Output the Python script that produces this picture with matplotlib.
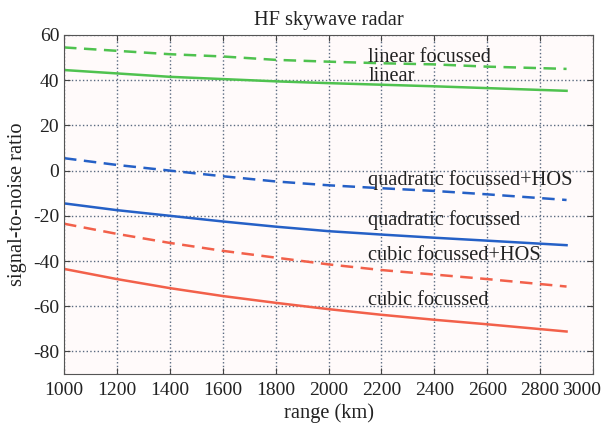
import numpy as np
import matplotlib.pyplot as plt
from matplotlib.transforms import ScaledTranslation

plt.rcParams['font.family'] = ['Liberation Serif', 'DejaVu Serif']
plt.rcParams['axes.unicode_minus'] = False

# range (km) and signal-to-noise ratio
rng = [1000, 1200, 1400, 1600, 1800, 2000, 2200, 2400, 2600, 2900]

linear_foc = [54.5, 53.0, 51.5, 50.5, 49.0, 48.2, 47.5, 47.0, 46.0, 45.0]
linear = [44.5, 43.0, 41.5, 40.5, 39.5, 38.7, 38.0, 37.3, 36.5, 35.3]
quad_hos = [5.5, 2.5, 0.0, -2.5, -4.8, -6.5, -7.8, -9.0, -10.5, -13.0]
quad_foc = [-14.5, -17.5, -20.0, -22.5, -24.8, -26.8, -28.3, -29.7, -31.0, -33.0]
cubic_hos = [-23.5, -28.0, -32.0, -35.5, -38.5, -41.5, -44.0, -46.0, -48.0, -51.3]
cubic_foc = [-43.5, -48.0, -52.0, -55.5, -58.5, -61.3, -63.8, -66.0, -68.0, -71.2]

green = '#4fc24f'
blue = '#2560c6'
red = '#f2604a'

series = [
    (linear_foc, green, '--', 'linear focussed', 48.0),
    (linear, green, '-', 'linear', 39.7),
    (quad_hos, blue, '--', 'quadratic focussed+HOS', -6.3),
    (quad_foc, blue, '-', 'quadratic focussed', -24.0),
    (cubic_hos, red, '--', 'cubic focussed+HOS', -39.5),
    (cubic_foc, red, '-', 'cubic focussed', -59.4),
]

fs = 14.7

fig = plt.figure(figsize=(6.05, 4.24), dpi=100)
ax = fig.add_axes([64 / 605, 1 - 374 / 424, (593 - 64) / 605, (374 - 35) / 424])
ax.set_facecolor('#fffafa')

for y, c, ls, lab, ty in series:
    if ls == '--':
        ax.plot(rng, y, color=c, linestyle=ls, linewidth=1.8, dashes=(5, 3))
    else:
        ax.plot(rng, y, color=c, linestyle=ls, linewidth=1.8)
    ax.text(2150, ty, lab, fontsize=fs, color='#222222', va='baseline', ha='left')

ax.set_xlim(1000, 3000)
ax.set_ylim(-90, 60)
ax.set_xticks(np.arange(1000, 3001, 200))
ax.set_yticks(np.arange(-80, 61, 20))
ax.grid(True, linestyle=':', color='#5a6a80', linewidth=1.0)
ax.tick_params(direction='in', top=True, right=True, labelsize=14, length=4,
               color='#444444', labelcolor='#222222')
ax.tick_params(axis='x', pad=6)
for s in ax.spines.values():
    s.set_color('#555555')

# last x tick label sits pulled in from the edge, as in the original
fig.canvas.draw()
last = ax.get_xticklabels()[-1]
last.set_transform(last.get_transform() + ScaledTranslation(-11 / 100, 0, fig.dpi_scale_trans))

ax.set_title('HF skywave radar', fontsize=fs, color='#222222', pad=7)
ax.set_xlabel('range (km)', fontsize=fs, color='#222222', labelpad=3)
ax.set_ylabel('signal-to-noise ratio', fontsize=fs, color='#222222', labelpad=4)

fig.savefig('out.png', dpi=100, facecolor='white')
